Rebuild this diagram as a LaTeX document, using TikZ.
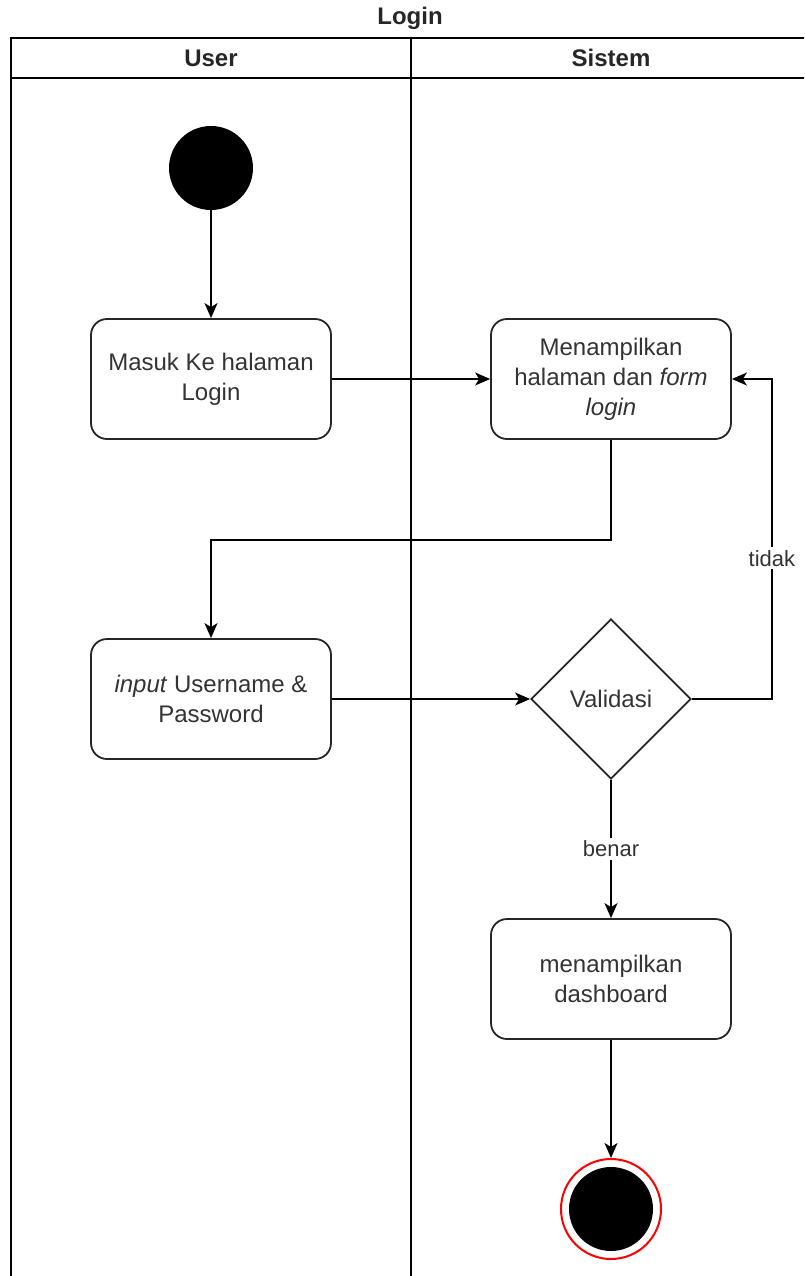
\documentclass[tikz,border=0pt]{standalone}
\usepackage{fontspec}
\setmainfont{Liberation Sans}
\usetikzlibrary{shapes.geometric,arrows.meta}

\tikzset{
  lane/.style={draw=black, line width=2pt},
  action/.style={draw=black!85, line width=1.8pt, rounded corners=16pt,
    minimum width=240pt, minimum height=120pt, align=center,
    font=\fontsize{24}{30}\selectfont, text=black!80},
  decision/.style={diamond, draw=black!85, line width=1.8pt, minimum width=160pt,
    minimum height=160pt, inner sep=0pt, font=\fontsize{24}{30}\selectfont, text=black!80},
  flow/.style={draw=black, line width=1.8pt, -{Stealth[length=15pt,width=13pt,inset=4pt]}},
  guard/.style={fill=white, font=\fontsize{22}{26}\selectfont, text=black!80, inner sep=3pt},
  head/.style={font=\bfseries\fontsize{24}{28}\selectfont, text=black!85},
  initial/.style={circle, fill=black, minimum size=84pt, inner sep=0pt},
  final/.style={circle, draw=red, line width=2pt, minimum size=100pt, inner sep=0pt}
}

\begin{document}
\begin{tikzpicture}[x=1pt,y=-1pt]
  \useasboundingbox (0,0) rectangle (804,1276);
  \clip (0,0) rectangle (804,1276);

  % swimlane pool
  \node[head] (title) at (410,18) {Login};
  \draw[lane] (11,38) rectangle (820,1300);
  \draw[lane] (11,78) -- (820,78);
  \draw[lane] (411,38) -- (411,1300);
  \node[head] (laneuser) at (211,58) {User};
  \node[head] (lanesys) at (611,58) {Sistem};

  % activities
  \node[initial] (start) at (211,168) {};
  \node[action] (masuk) at (211,379) {Masuk Ke halaman\\Login};
  \node[action] (form) at (611,379) {Menampilkan\\halaman dan \textit{form}\\\textit{login}};
  \node[action] (input) at (211,699) {\textit{input} Username \&\\Password};
  \node[decision] (valid) at (611,699) {Validasi};
  \node[action] (dash) at (611,979) {menampilkan\\dashboard};
  \node[final] (end) at (611,1209) {};
  \node[circle, fill=black, minimum size=84pt, inner sep=0pt] (endcore) at (end) {};

  % control flow
  \draw[flow] (start) -- (masuk);
  \draw[flow] (masuk) -- (form);
  \draw[flow] (form.south) -- ++(0,100) -| (input.north);
  \draw[flow] (input) -- (valid);
  \draw[flow] (valid.east) -- ++(80,0) |- node[pos=0.22, guard] {tidak} (form.east);
  \draw[flow] (valid) -- node[guard] {benar} (dash);
  \draw[flow] (dash) -- (end);
\end{tikzpicture}
\end{document}
